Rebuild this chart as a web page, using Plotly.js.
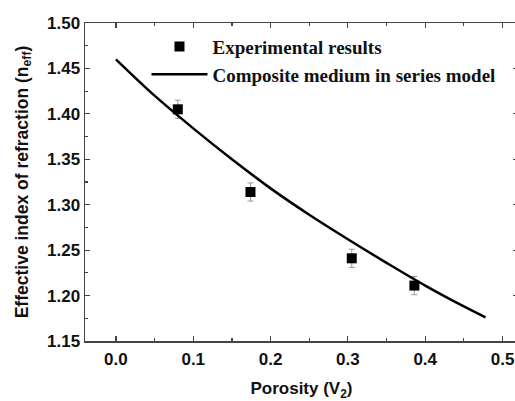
<!DOCTYPE html>
<html>
<head>
<meta charset="utf-8">
<script src="https://cdn.plot.ly/plotly-3.0.1.min.js"></script>
<style>
html,body{margin:0;padding:0;overflow:hidden;background:#fff;}
#chart{width:518px;height:401px;}
</style>
</head>
<body>
<div id="chart"></div>
<script>
// Experimental results
const expPorosity = [0.080, 0.174, 0.305, 0.386];
const expIndex = [1.405, 1.314, 1.241, 1.211];
const expError = [0.010, 0.010, 0.010, 0.010];

// Composite medium in series model (curve)
const modelPorosity = [0.00, 0.05, 0.10, 0.15, 0.20, 0.25, 0.30, 0.35, 0.40, 0.45, 0.478];
const modelIndex = [1.460, 1.420, 1.384, 1.350, 1.318, 1.289, 1.262, 1.236, 1.211, 1.188, 1.176];

const xTickVals = [0.0, 0.1, 0.2, 0.3, 0.4, 0.5];
const xTickText = ['0.0', '0.1', '0.2', '0.3', '0.4', '0.5'];
const yTickVals = [1.15, 1.20, 1.25, 1.30, 1.35, 1.40, 1.45, 1.50];
const yTickText = ['1.15', '1.20', '1.25', '1.30', '1.35', '1.40', '1.45', '1.50'];

const traces = [
  {
    x: expPorosity, y: expIndex,
    type: 'scatter', mode: 'markers',
    name: 'Experimental results',
    marker: {symbol: 'square', size: 10, color: '#000'},
    error_y: {type: 'data', array: expError, visible: true, color: '#999', thickness: 1, width: 3}
  },
  {
    x: modelPorosity, y: modelIndex,
    type: 'scatter', mode: 'lines',
    name: 'Composite medium in series model',
    line: {color: '#000', width: 2.5, shape: 'spline'}
  }
];

const sansBold = {family: 'Liberation Sans, Arial, sans-serif', size: 17, color: '#111', weight: 'bold'};

const axisCommon = {
  showline: true, linecolor: '#444', linewidth: 1.5,
  mirror: 'ticks', ticks: 'inside', ticklen: 5, tickwidth: 1.2, tickcolor: '#444',
  showgrid: false, zeroline: false,
  tickfont: sansBold
};

const layout = {
  width: 518, height: 401,
  margin: {l: 85, r: 0, t: 23, b: 60},
  paper_bgcolor: '#fff', plot_bgcolor: '#fff',
  showlegend: true,
  legend: {
    x: 0.142, y: 0.985, xanchor: 'left', yanchor: 'top',
    bgcolor: 'rgba(0,0,0,0)', borderwidth: 0,
    itemwidth: 56, tracegroupgap: 0,
    font: {family: 'Liberation Serif, Times New Roman, serif', size: 19, color: '#111', weight: 'bold'}
  },
  xaxis: Object.assign({}, axisCommon, {
    range: [-0.04, 0.52],
    tickmode: 'array', tickvals: xTickVals, ticktext: xTickText,
    ticklabelstandoff: 2,
    minor: {dtick: 0.05, tick0: 0, ticks: 'inside', ticklen: 3, tickwidth: 1.2, tickcolor: '#444', showgrid: false},
    title: {text: 'Porosity (V<sub>2</sub>)', standoff: 17, font: sansBold}
  }),
  yaxis: Object.assign({}, axisCommon, {
    range: [1.15, 1.50],
    tickmode: 'array', tickvals: yTickVals, ticktext: yTickText,
    minor: {dtick: 0.025, tick0: 1.15, ticks: 'inside', ticklen: 3, tickwidth: 1.2, tickcolor: '#444', showgrid: false},
    title: {text: 'Effective index of refraction (n<sub>eff</sub>)', standoff: 14,
      font: {family: 'Liberation Sans, Arial, sans-serif', size: 17.5, color: '#111', weight: 'bold'}}
  })
};

Plotly.newPlot('chart', traces, layout, {displayModeBar: false, staticPlot: true});
</script>
</body>
</html>
